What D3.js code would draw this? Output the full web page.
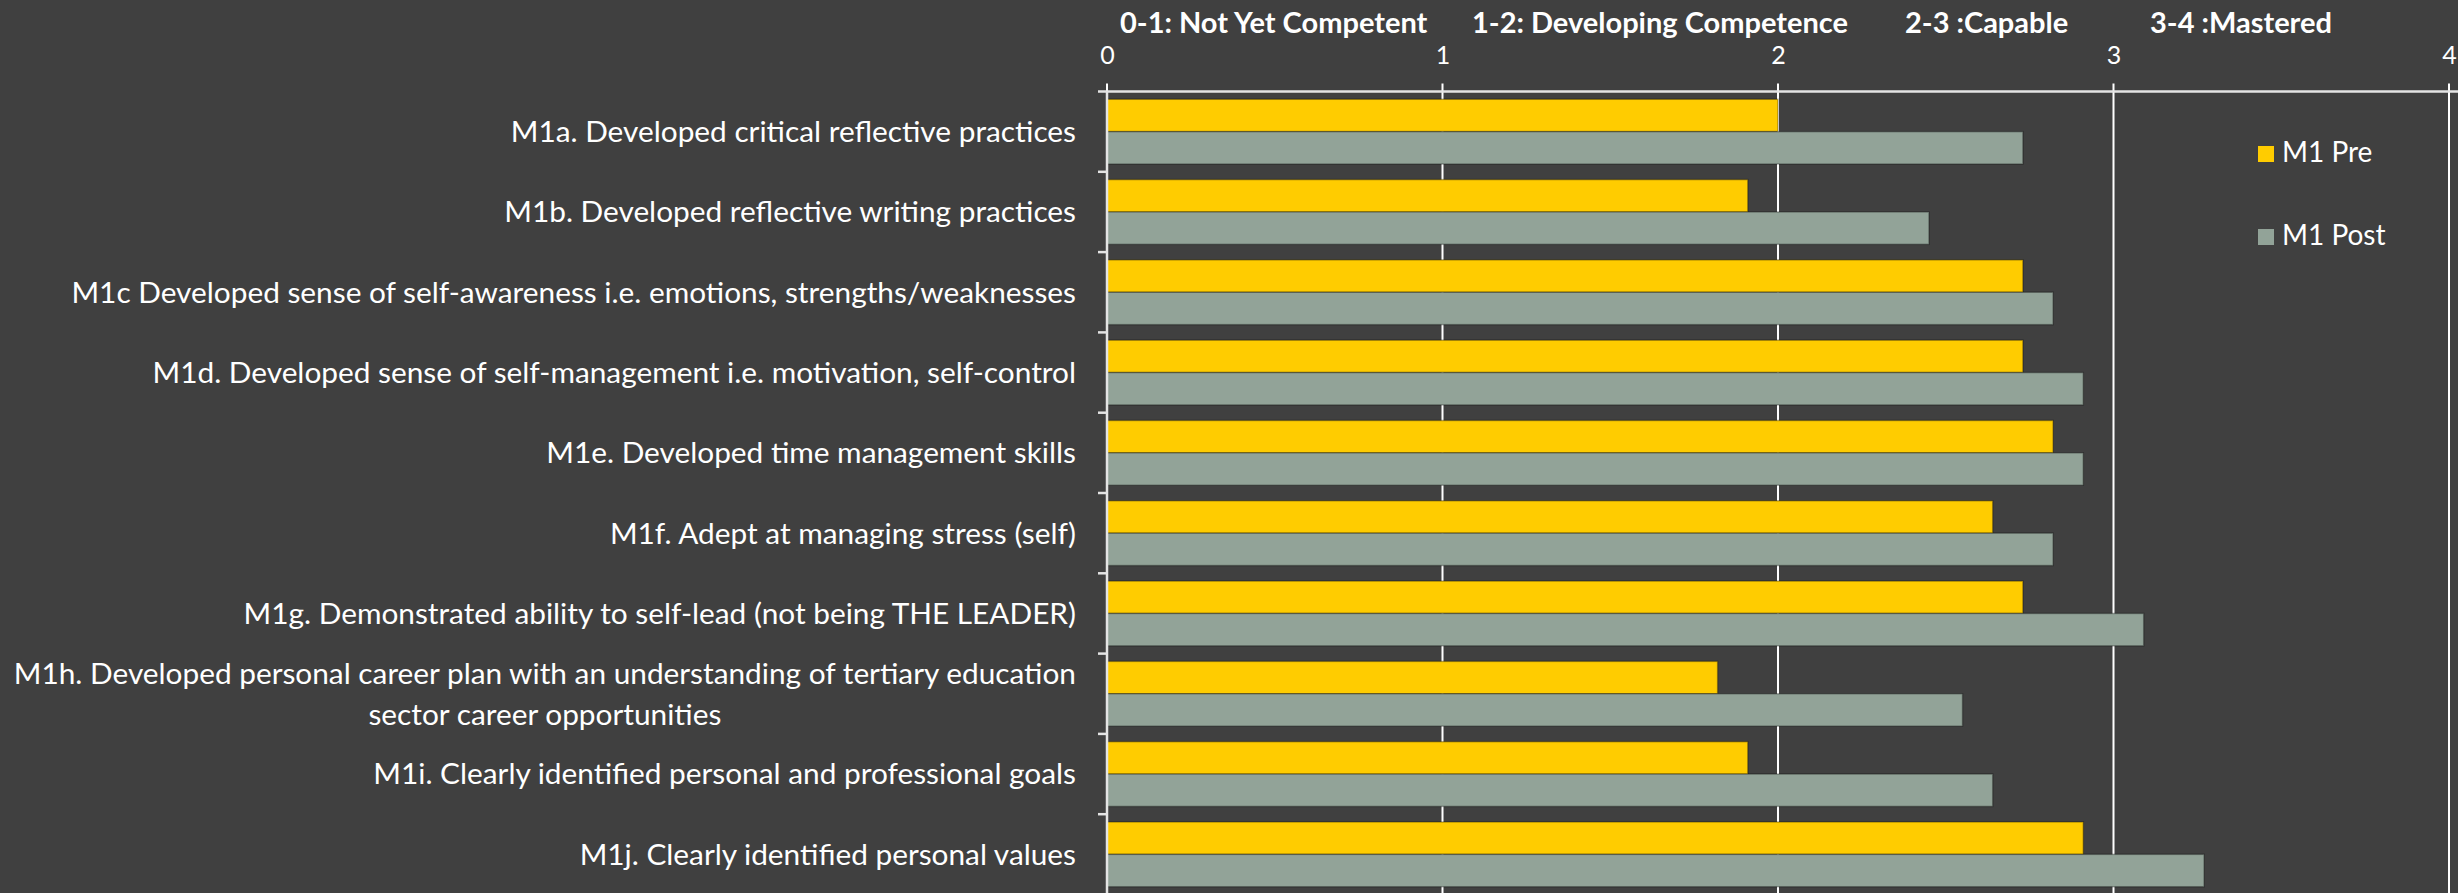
<!DOCTYPE html>
<html>
<head>
<meta charset="utf-8">
<script src="https://cdn.jsdelivr.net/npm/d3@7"></script>
<style>
    html, body { margin: 0; padding: 0; background: #404040; }
    svg { display: block; }
</style>
</head>
<body>
<div id="chart"></div>
<script>
const categories = [
    'M1a. Developed critical reflective practices',
    'M1b. Developed reflective writing practices',
    'M1c Developed sense of self-awareness i.e. emotions, strengths/weaknesses',
    'M1d. Developed sense of self-management i.e. motivation, self-control',
    'M1e. Developed time management skills',
    'M1f. Adept at managing stress (self)',
    'M1g. Demonstrated ability to self-lead (not being THE LEADER)',
    'M1h. Developed personal career plan with an understanding of tertiary education\nsector career opportunities',
    'M1i. Clearly identified personal and professional goals',
    'M1j. Clearly identified personal values'
];
const series_names = ['M1 Pre', 'M1 Post'];
const pre_values = [2.00, 1.91, 2.73, 2.73, 2.82, 2.64, 2.73, 1.82, 1.91, 2.91];
const post_values = [2.73, 2.45, 2.82, 2.91, 2.91, 2.82, 3.09, 2.55, 2.64, 3.27];
const x_ticks = [0, 1, 2, 3, 4];
const header_labels = ['0-1: Not Yet Competent', '1-2: Developing Competence', '2-3 :Capable', '3-4 :Mastered'];

(function() {
    const width = 2458,
        height = 893,
        font = 'Lato, "Open Sans", sans-serif',
        colors = ['#ffcc00', '#92a398'],
        plot = {left: 1107, right: 2449, top: 91.5, bottom: 894.5};

    let svg = d3.select('#chart').append('svg')
        .attr('width', width)
        .attr('height', height)
        .attr('font-family', font);

    svg.append('rect')
        .attr('width', width)
        .attr('height', height)
        .attr('fill', '#404040');

    let x = d3.scaleLinear().domain([0, 4]).range([plot.left, plot.right]);
    let y = d3.scaleBand().domain(categories).range([plot.top, plot.bottom]);
    let y_inner = d3.scaleBand().domain(series_names)
        .range([0, y.bandwidth()])
        .paddingOuter(0.24);

    // gridlines behind the bars
    svg.append('g').selectAll('line')
        .data(x_ticks)
        .enter().append('line')
        .attr('x1', (d) => x(d))
        .attr('x2', (d) => x(d))
        .attr('y1', plot.top - 8)
        .attr('y2', height)
        .attr('stroke', '#ffffff')
        .attr('stroke-width', 2);

    let rows = categories.map((c, i) => ({
        name: c,
        values: [pre_values[i], post_values[i]]
    }));

    let groups = svg.append('g').selectAll('g')
        .data(rows)
        .enter().append('g')
        .attr('transform', (d) => 'translate(0,' + y(d.name) + ')');

    groups.selectAll('rect')
        .data((d) => d.values.map((v, k) => ({series: series_names[k], value: v, k: k})))
        .enter().append('rect')
        .attr('x', x(0))
        .attr('y', (d) => y_inner(d.series))
        .attr('width', (d) => x(d.value) - x(0))
        .attr('height', y_inner.bandwidth())
        .attr('fill', (d) => colors[d.k])
        .attr('stroke', 'rgba(0,0,0,0.3)')
        .attr('stroke-width', 1.5);

    // top axis
    let x_axis = svg.append('g')
        .attr('transform', 'translate(0,' + plot.top + ')')
        .call(d3.axisTop(x).tickValues(x_ticks).tickFormat(d3.format('d')).tickSize(0).tickPadding(28));
    x_axis.select('.domain').remove();
    x_axis.selectAll('text')
        .attr('fill', '#ffffff')
        .attr('font-family', font)
        .attr('font-size', 25);

    svg.append('line')
        .attr('x1', plot.left - 9)
        .attr('x2', width)
        .attr('y1', plot.top)
        .attr('y2', plot.top)
        .attr('stroke', '#e4e4e4')
        .attr('stroke-width', 2.5);

    // left axis with ticks on the category boundaries
    svg.append('line')
        .attr('x1', plot.left)
        .attr('x2', plot.left)
        .attr('y1', plot.top)
        .attr('y2', height)
        .attr('stroke', '#e4e4e4')
        .attr('stroke-width', 2.5);

    svg.append('g').selectAll('line')
        .data(categories)
        .enter().append('line')
        .attr('x1', plot.left - 9)
        .attr('x2', plot.left)
        .attr('y1', (d) => y(d) + y.bandwidth())
        .attr('y2', (d) => y(d) + y.bandwidth())
        .attr('stroke', '#e4e4e4')
        .attr('stroke-width', 2.5);

    // category labels: block right aligned, lines centred in the block
    let label_right = plot.left - 31,
        line_gap = 41;
    categories.forEach(function(c) {
        let lines = c.split('\n');
        let t = svg.append('text')
            .attr('fill', '#ffffff')
            .attr('font-size', 29.8)
            .attr('text-anchor', 'middle');
        let cy = y(c) + y.bandwidth() / 2 - (lines.length - 1) * line_gap / 2;
        lines.forEach(function(l, i) {
            t.append('tspan')
                .attr('y', cy + i * line_gap)
                .attr('dy', '0.35em')
                .text(l);
        });
        let max_w = d3.max(t.selectAll('tspan').nodes(), (n) => n.getComputedTextLength());
        t.selectAll('tspan').attr('x', label_right - max_w / 2);
    });

    // header text above the axis
    let header_x = [1120, 1472, 1905, 2150];
    svg.append('g').selectAll('text')
        .data(header_labels)
        .enter().append('text')
        .attr('x', (d, i) => header_x[i])
        .attr('y', 33)
        .attr('fill', '#ffffff')
        .attr('font-weight', 'bold')
        .attr('font-size', 29)
        .text((d) => d);

    // legend
    let legend = svg.append('g')
        .attr('transform', 'translate(2258,146)')
        .selectAll('g')
        .data(series_names)
        .enter().append('g')
        .attr('transform', (d, i) => 'translate(0,' + (i * 83) + ')');

    legend.append('rect')
        .attr('width', 16)
        .attr('height', 16)
        .attr('fill', (d, i) => colors[i]);

    legend.append('text')
        .attr('x', 24)
        .attr('y', 16)
        .attr('fill', '#ffffff')
        .attr('font-size', 28)
        .text((d) => d);
}());
</script>
</body>
</html>
